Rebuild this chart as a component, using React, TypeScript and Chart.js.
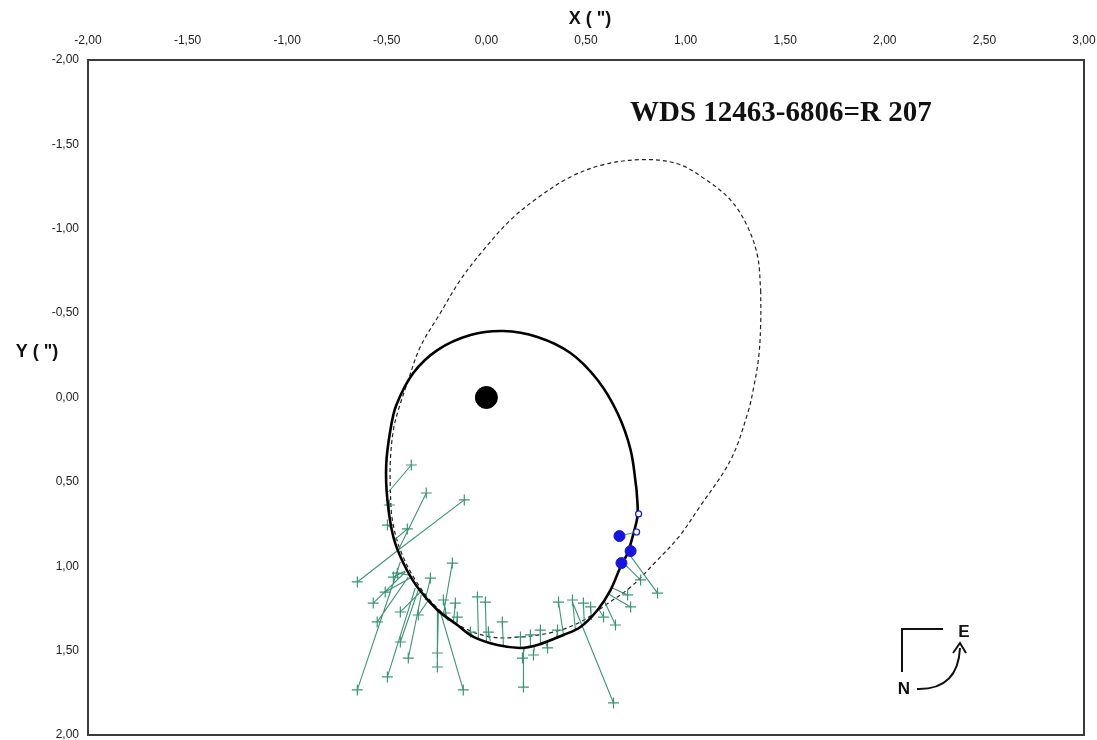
import React, { useEffect, useRef } from 'react';
import { Chart, registerables } from 'chart.js';

Chart.register(...registerables);

// ---- axes ----
const X_MIN = -2;
const X_MAX = 3;
const Y_MIN = -2;
const Y_MAX = 2;
const TICK_STEP = 0.5;
const CHART_TITLE = 'WDS 12463-6806=R 207';
const X_TITLE = 'X ( ")';
const Y_TITLE = 'Y ( ")';

// ---- primary star ----
const primaryX = [0];
const primaryY = [0];

// ---- new orbit (solid) ----
const newOrbitX = [0.754, 0.759, 0.739, 0.709, 0.673, 0.623, 0.558, 0.472, 0.387, 0.256, 0.171, 0.055, -0.065, -0.146, -0.246, -0.347, -0.417, -0.467, -0.497, -0.503, -0.482, -0.452, -0.367, -0.246, -0.080, 0.085, 0.256, 0.422, 0.558, 0.658, 0.724, 0.754];
const newOrbitY = [0.548, 0.696, 0.803, 0.921, 1.004, 1.141, 1.259, 1.360, 1.407, 1.467, 1.484, 1.467, 1.419, 1.348, 1.259, 1.123, 0.981, 0.827, 0.607, 0.400, 0.193, 0.044, -0.145, -0.281, -0.370, -0.394, -0.359, -0.264, -0.104, 0.092, 0.311, 0.548];

// ---- previous orbit (dashed) ----
const oldOrbitX = [1.377, 1.377, 1.367, 1.342, 1.312, 1.226, 1.060, 0.965, 0.849, 0.724, 0.598, 0.472, 0.337, 0.171, 0.020, -0.131, -0.256, -0.357, -0.432, -0.472, -0.482, -0.482, -0.467, -0.442, -0.397, -0.332, -0.231, -0.131, -0.015, 0.121, 0.256, 0.422, 0.588, 0.789, 0.960, 1.090, 1.226, 1.312, 1.362, 1.377];
const oldOrbitY = [-0.637, -0.441, -0.240, -0.062, 0.092, 0.370, 0.667, 0.827, 0.975, 1.123, 1.230, 1.330, 1.390, 1.419, 1.419, 1.354, 1.236, 1.081, 0.904, 0.726, 0.548, 0.370, 0.193, 0.074, -0.086, -0.299, -0.501, -0.696, -0.874, -1.052, -1.182, -1.307, -1.380, -1.410, -1.385, -1.300, -1.170, -1.010, -0.833, -0.637];

// ---- measures (observed) and their computed positions ----
const obsX = [-0.377, -0.302, -0.111, -0.648, -0.487, -0.397, -0.171, -0.246, -0.246, -0.281, -0.568, -0.548, -0.432, -0.432, -0.392, -0.497, -0.648, -0.116, -0.216, -0.156, -0.206, -0.146, -0.045, -0.005, 0.080, -0.080, 0.010, 0.186, 0.181, 0.236, 0.307, 0.171, 0.221, 0.271, 0.357, 0.362, 0.432, 0.487, 0.523, 0.638, 0.588, 0.648, 0.709, 0.724, 0.774, 0.859, -0.467, -0.497, -0.342, -0.508, -0.447];
const obsY = [0.400, 0.566, 0.607, 1.093, 0.637, 0.779, 0.981, 1.597, 1.514, 1.070, 1.218, 1.330, 1.271, 1.449, 1.544, 1.656, 1.733, 1.733, 1.200, 1.218, 1.277, 1.301, 1.182, 1.212, 1.330, 1.390, 1.390, 1.716, 1.544, 1.526, 1.484, 1.419, 1.407, 1.378, 1.378, 1.212, 1.200, 1.218, 1.241, 1.810, 1.301, 1.348, 1.170, 1.241, 1.081, 1.159, 1.064, 0.756, 1.289, 1.153, 1.041];
const calcX = [-0.492, -0.442, -0.442, -0.442, -0.492, -0.462, -0.216, -0.246, -0.241, -0.307, -0.407, -0.392, -0.332, -0.342, -0.327, -0.357, -0.432, -0.231, -0.196, -0.166, -0.191, -0.151, -0.040, 0.000, 0.085, -0.070, 0.020, 0.186, 0.191, 0.241, 0.296, 0.171, 0.221, 0.271, 0.352, 0.387, 0.447, 0.492, 0.528, 0.432, 0.563, 0.593, 0.633, 0.613, 0.683, 0.714, -0.407, -0.477, -0.291, -0.382, -0.382];
const calcY = [0.560, 0.904, 0.904, 0.904, 0.667, 0.844, 1.283, 1.259, 1.265, 1.200, 1.034, 1.064, 1.153, 1.141, 1.170, 1.129, 0.975, 1.271, 1.319, 1.342, 1.325, 1.351, 1.425, 1.443, 1.467, 1.413, 1.443, 1.484, 1.484, 1.473, 1.449, 1.478, 1.473, 1.461, 1.431, 1.407, 1.378, 1.348, 1.319, 1.212, 1.253, 1.209, 1.129, 1.164, 0.975, 0.924, 1.028, 0.774, 1.200, 1.070, 1.053];

// ---- recent measures (blue) ----
const recentX = [0.668, 0.724, 0.678];
const recentY = [0.821, 0.910, 0.981];
const recentCalcX = [0.764, 0.754];
const recentCalcY = [0.690, 0.797];

const GREEN = '#3a9677';
const BLUE = '#1414e6';

const pts = (xs: number[], ys: number[]) => xs.map((x, i) => ({ x, y: ys[i] }));

const fmt = (v: number) => {
  const n = Math.abs(v) < 1e-9 ? 0 : v;
  return n.toFixed(2).replace('.', ',');
};

function buildSegments() {
  const data: { x: number | null; y: number | null }[] = [];
  obsX.forEach((x, i) => {
    data.push({ x, y: obsY[i] });
    data.push({ x: calcX[i], y: calcY[i] });
    data.push({ x: null, y: null });
  });
  return data;
}

function buildRecentLinks() {
  return [
    { x: recentX[0], y: recentY[0] },
    { x: recentCalcX[1], y: recentCalcY[1] },
  ];
}

const framePlugin = {
  id: 'frame',
  afterDatasetsDraw(chart: any) {
    const { ctx, chartArea } = chart;
    ctx.save();
    ctx.strokeStyle = '#3a3a3a';
    ctx.lineWidth = 2;
    ctx.strokeRect(chartArea.left, chartArea.top, chartArea.right - chartArea.left, chartArea.bottom - chartArea.top);
    ctx.restore();
  },
};

const decorPlugin = {
  id: 'decor',
  afterDraw(chart: any) {
    const { ctx } = chart;
    ctx.save();
    // Chart title
    ctx.fillStyle = '#111';
    ctx.font = 'bold 29px "Liberation Serif", "Times New Roman", serif';
    ctx.textAlign = 'left';
    ctx.textBaseline = 'alphabetic';
    ctx.fillText(CHART_TITLE, 630, 121);

    // Axis titles
    ctx.font = 'bold 18px "Liberation Sans", Arial, sans-serif';
    ctx.textAlign = 'center';
    ctx.textBaseline = 'middle';
    ctx.fillStyle = '#111';
    ctx.fillText(X_TITLE, 590, 19);
    ctx.fillText(Y_TITLE, 37, 352);

    // Compass N / E
    ctx.strokeStyle = '#111';
    ctx.lineWidth = 2;
    ctx.beginPath();
    ctx.moveTo(902, 672);
    ctx.lineTo(902, 629);
    ctx.lineTo(943, 629);
    ctx.stroke();
    ctx.beginPath();
    ctx.moveTo(917, 689);
    ctx.quadraticCurveTo(958, 690, 960, 648);
    ctx.stroke();
    ctx.beginPath();
    ctx.moveTo(953, 653);
    ctx.lineTo(960, 643);
    ctx.lineTo(966, 653);
    ctx.stroke();
    ctx.font = 'bold 17px "Liberation Sans", Arial, sans-serif';
    ctx.fillText('E', 964, 632);
    ctx.fillText('N', 904, 689);
    ctx.restore();
  },
};

const tickFont = { family: '"Liberation Sans", Arial, sans-serif', size: 12 };

export default function App() {
  const canvasRef = useRef<HTMLCanvasElement | null>(null);

  useEffect(() => {
    if (!canvasRef.current) return;
    const chart = new Chart(canvasRef.current, {
      type: 'scatter',
      data: {
        datasets: [
          {
            label: 'primary',
            data: pts(primaryX, primaryY),
            pointRadius: 11,
            pointBackgroundColor: '#000',
            pointBorderColor: '#000',
            showLine: false,
          },
          {
            label: 'recent',
            data: pts(recentX, recentY),
            pointRadius: 5.5,
            pointBackgroundColor: BLUE,
            pointBorderColor: BLUE,
            showLine: false,
          },
          {
            label: 'recentCalc',
            data: pts(recentCalcX, recentCalcY),
            pointRadius: 3,
            pointBorderWidth: 1.2,
            pointBackgroundColor: '#fff',
            pointBorderColor: BLUE,
            showLine: false,
          },
          {
            label: 'recentLinks',
            data: buildRecentLinks(),
            showLine: true,
            borderColor: GREEN,
            borderWidth: 1,
            pointRadius: 0,
            tension: 0,
          },
          {
            label: 'newOrbit',
            data: pts(newOrbitX, newOrbitY),
            showLine: true,
            borderColor: '#000',
            borderWidth: 2.6,
            pointRadius: 0,
            tension: 0.35,
          },
          {
            label: 'obs',
            data: pts(obsX, obsY),
            showLine: false,
            pointStyle: 'cross',
            pointRadius: 5.5,
            pointBorderWidth: 1.2,
            pointBorderColor: GREEN,
            pointBackgroundColor: GREEN,
          },
          {
            label: 'residuals',
            data: buildSegments() as any,
            showLine: true,
            spanGaps: false,
            borderColor: GREEN,
            borderWidth: 1.1,
            pointRadius: 0,
            tension: 0,
          },
          {
            label: 'oldOrbit',
            data: pts(oldOrbitX, oldOrbitY),
            showLine: true,
            borderColor: '#222',
            borderWidth: 1.2,
            borderDash: [4, 3],
            pointRadius: 0,
            tension: 0.35,
          },
        ],
      },
      options: {
        animation: false,
        responsive: false,
        maintainAspectRatio: false,
        events: [],
        layout: { padding: { left: 0, right: 13, top: 0, bottom: 17 } },
        plugins: {
          legend: { display: false },
          tooltip: { enabled: false },
        },
        scales: {
          x: {
            type: 'linear',
            position: 'top',
            min: X_MIN,
            max: X_MAX,
            grid: { display: false, drawTicks: false },
            border: { display: false },
            ticks: {
              stepSize: TICK_STEP,
              autoSkip: false,
              maxRotation: 0,
              padding: 12,
              color: '#222',
              font: tickFont,
              callback: (v: any) => fmt(Number(v)),
            },
            afterFit: (s: any) => {
              s.height = 60;
              s.paddingLeft = 0;
              s.paddingRight = 0;
            },
          },
          y: {
            type: 'linear',
            reverse: true,
            min: Y_MIN,
            max: Y_MAX,
            grid: { display: false, drawTicks: false },
            border: { display: false },
            ticks: {
              stepSize: TICK_STEP,
              autoSkip: false,
              padding: 9,
              color: '#222',
              font: tickFont,
              callback: (v: any) => fmt(Number(v)),
            },
            afterFit: (s: any) => {
              s.width = 88;
            },
          },
        },
      } as any,
      plugins: [framePlugin, decorPlugin],
    });
    return () => chart.destroy();
  }, []);

  return (
    <div style={{ position: 'fixed', left: 0, top: 0, width: 1097, height: 740, overflow: 'hidden', background: '#fff' }}>
      <canvas ref={canvasRef} width={1097} height={752} style={{ display: 'block', width: 1097, height: 752 }} />
    </div>
  );
}
